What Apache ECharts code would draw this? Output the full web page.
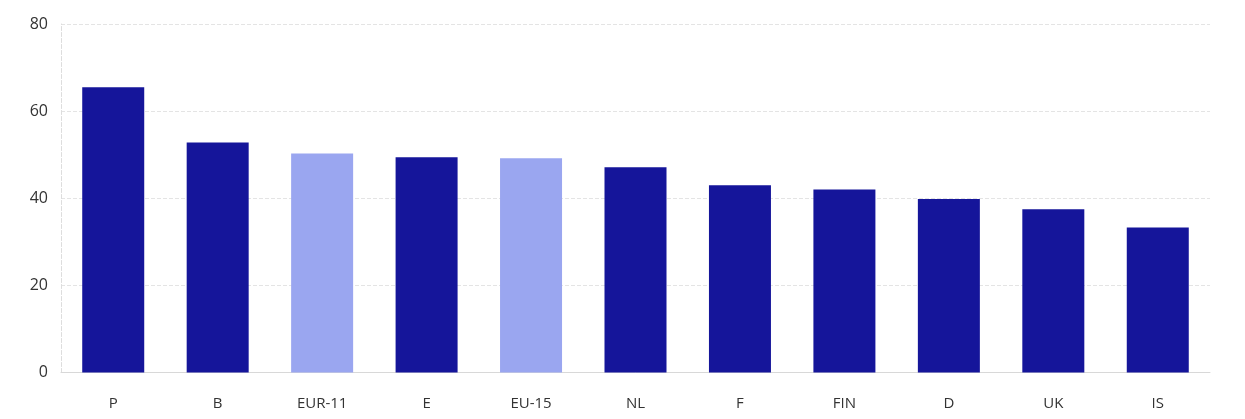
<!DOCTYPE html>
<html>
<head>
<meta charset="utf-8">
<script src="https://cdn.jsdelivr.net/npm/echarts@6/dist/echarts.min.js"></script>
<style>
  html, body { margin: 0; padding: 0; background: #ffffff; }
  #chart { width: 1245px; height: 419px; }
</style>
</head>
<body>
<div id="chart"></div>
<script>
// Country codes along the x axis
const categories = ['P', 'B', 'EUR-11', 'E', 'EU-15', 'NL', 'F', 'FIN', 'D', 'UK', 'IS'];
// Values per country
const values = [65.5, 52.8, 50.3, 49.4, 49.2, 47.1, 43.0, 42.0, 39.8, 37.5, 33.3];
// Aggregates drawn in a lighter shade
const aggregates = ['EUR-11', 'EU-15'];
// Y axis ticks
const yTicks = [0, 20, 40, 60, 80];

const dark = '#15159a';
const light = '#9aa6f0';

const chart = echarts.init(document.getElementById('chart'));
chart.setOption({
  backgroundColor: '#ffffff',
  animation: false,
  grid: { left: 61, right: 35, top: 24, bottom: 46.5 },
  xAxis: {
    type: 'category',
    data: categories,
    axisLine: { show: true, lineStyle: { color: '#d8d8d8', width: 1 } },
    axisTick: { show: false },
    axisLabel: {
      color: '#333333', fontSize: 15, fontFamily: 'Open Sans', margin: 24
    }
  },
  yAxis: {
    type: 'value',
    min: yTicks[0],
    max: yTicks[yTicks.length - 1],
    interval: 20,
    axisLine: { show: true, lineStyle: { color: '#dddddd', type: 'dashed' } },
    axisTick: { show: false },
    axisLabel: {
      color: '#333333', fontSize: 16, fontFamily: 'Open Sans', margin: 13
    },
    splitLine: { show: true, lineStyle: { color: '#e4e4e4', type: 'dashed', width: 1 } }
  },
  series: [{
    type: 'bar',
    data: values.map((v, i) => ({
      value: v,
      itemStyle: { color: aggregates.includes(categories[i]) ? light : dark }
    })),
    barWidth: 62
  }]
});
</script>
</body>
</html>
